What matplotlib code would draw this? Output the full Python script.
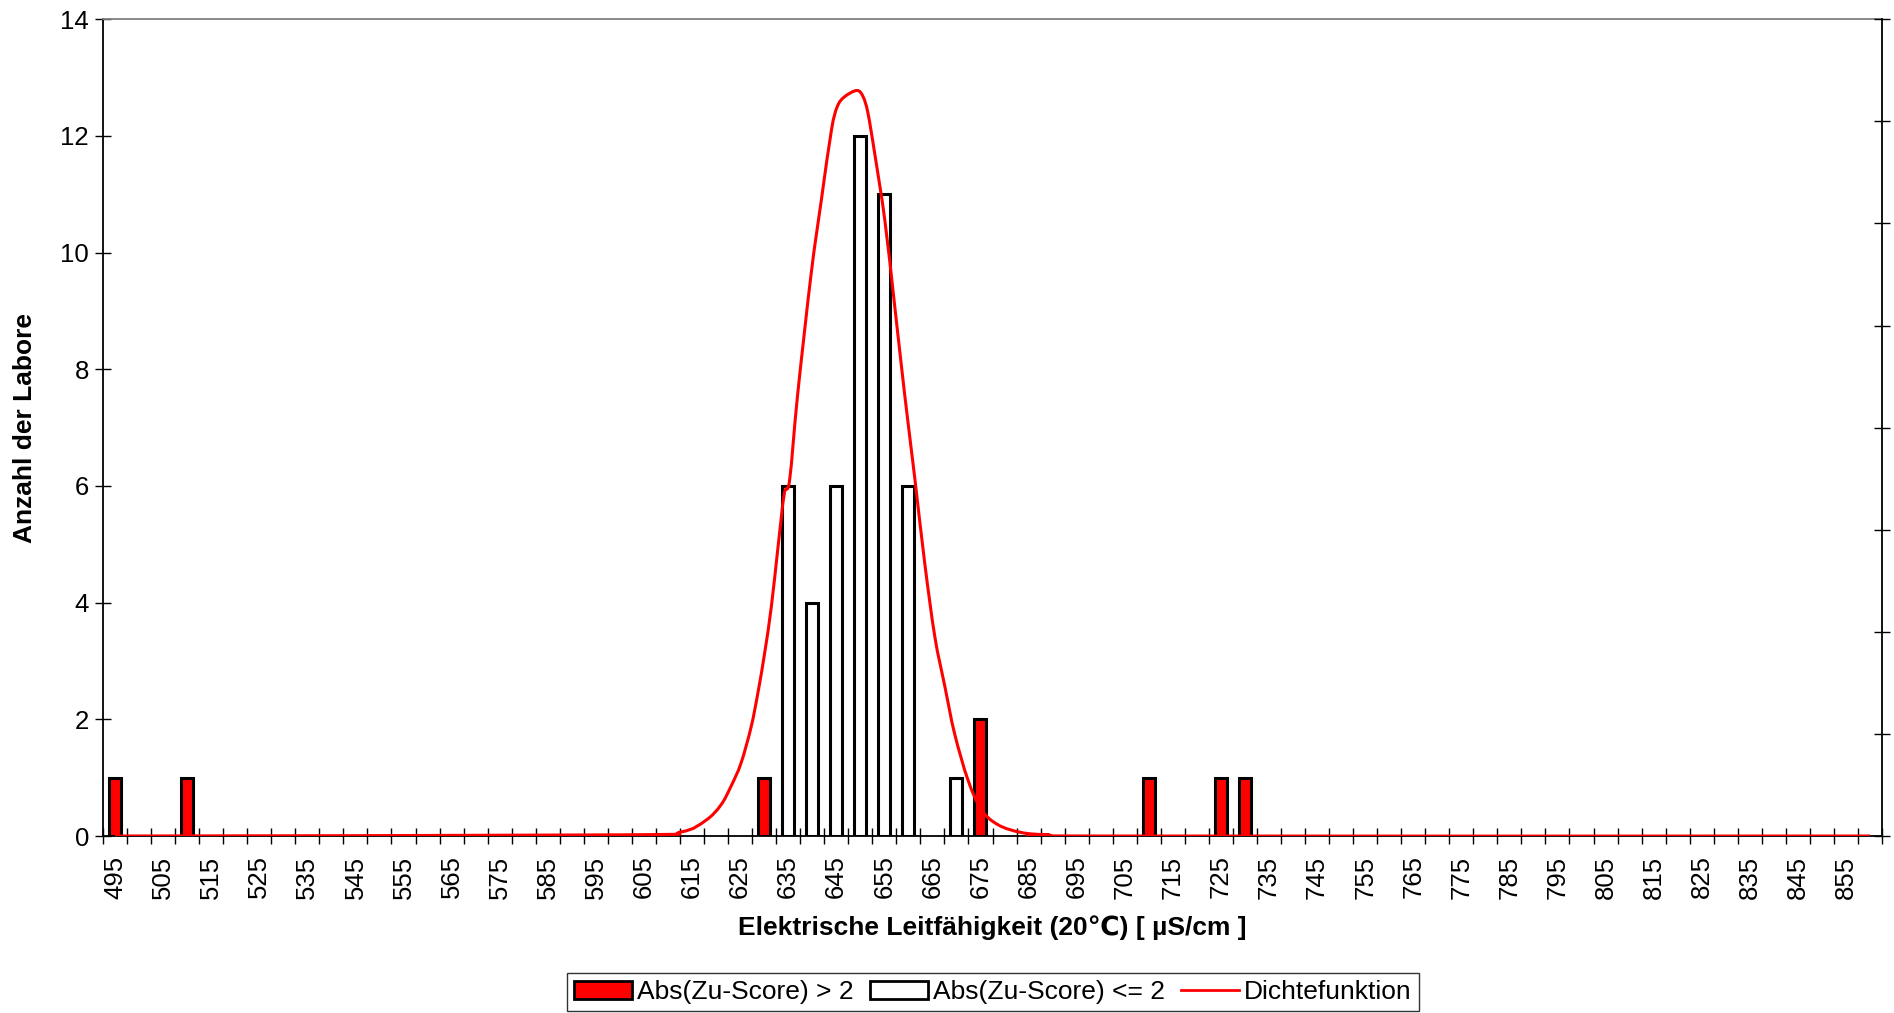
import matplotlib
matplotlib.use("Agg")
import matplotlib.pyplot as plt
from matplotlib.patches import Patch, PathPatch
from matplotlib.lines import Line2D
from matplotlib.path import Path

plt.rcParams['font.family'] = ['Liberation Sans', 'DejaVu Sans']

# categories (bin centres, µS/cm)
categories = list(range(495, 861, 5))
tick_labels = [str(c) for c in categories[::2]]

# Abs(Zu-Score) > 2
red_cats = [495, 510, 630, 675, 710, 725, 730]
red_counts = [1, 1, 1, 2, 1, 1, 1]

# Abs(Zu-Score) <= 2
white_cats = [635, 640, 645, 650, 655, 660, 670]
white_counts = [6, 4, 6, 12, 11, 6, 1]

# Dichtefunktion
dens_x = [495, 600.2, 612.7, 617.9, 621.0, 623.1, 625.2, 627.3, 628.7, 630.1, 631.5,
          632.9, 634.2, 635.3, 637.0, 639.8, 641.9, 644.0, 645.2, 646.7, 649.3,
          650.6, 651.6, 653.0, 655.1, 657.1, 659.2, 661.3, 663.4, 665.5, 667.6,
          669.6, 672.4, 675.2, 678.7, 683.5, 689.1, 700, 860]
dens_y = [0.0, 0.02, 0.07, 0.27, 0.53, 0.85, 1.25, 1.87, 2.45, 3.13, 3.93,
          4.96, 5.87, 6.10, 7.59, 9.65, 10.90, 12.10, 12.50, 12.67, 12.78,
          12.67, 12.39, 11.70, 10.56, 9.13, 7.59, 6.16, 4.68, 3.42, 2.56,
          1.76, 0.96, 0.45, 0.19, 0.06, 0.02, 0.0, 0.0]


def pos(v):
    return (v - categories[0]) / 5.0


def smooth_path(xs, ys):
    """Smoothed line (Catmull-Rom drawn as cubic Bezier segments)."""
    pts = list(zip(xs, ys))
    verts = [pts[0]]
    codes = [Path.MOVETO]
    n = len(pts)
    for i in range(n - 1):
        p0 = pts[i - 1] if i > 0 else pts[i]
        p1 = pts[i]
        p2 = pts[i + 1]
        p3 = pts[i + 2] if i + 2 < n else pts[i + 1]
        c1 = (p1[0] + (p2[0] - p0[0]) / 6.0, p1[1] + (p2[1] - p0[1]) / 6.0)
        c2 = (p2[0] - (p3[0] - p1[0]) / 6.0, p2[1] - (p3[1] - p1[1]) / 6.0)
        verts += [c1, c2, p2]
        codes += [Path.CURVE4] * 3
    return Path(verts, codes)


fig = plt.figure(figsize=(18.94, 10.13), dpi=100)
ax = fig.add_axes([103/1894, 1-836/1013, (1882-103)/1894, (836-19.3)/1013])

n = len(categories)
ax.bar([pos(c) for c in red_cats], red_counts, width=0.5, color='#FF0000',
       edgecolor='black', linewidth=2.2, zorder=2)
ax.bar([pos(c) for c in white_cats], white_counts, width=0.5, color='white',
       edgecolor='black', linewidth=2.2, zorder=2)
curve = PathPatch(smooth_path([pos(v) for v in dens_x], dens_y), fill=False,
                  edgecolor='#FF0000', linewidth=2.2, zorder=3,
                  transform=ax.transData)
ax.add_patch(curve)

ax.set_xlim(-0.5, n - 0.5)
ax.set_ylim(0, 14)
ax.set_yticks(range(0, 15, 2))
ax.tick_params(axis='y', direction='inout', length=12, width=1, labelsize=18.5, pad=4)

ax.set_xticks([i - 0.5 for i in range(n + 1)])
ax.set_xticklabels([])
ax.set_xticks(list(range(0, n, 2)), minor=True)
ax.set_xticklabels(tick_labels, minor=True, rotation=90)
ax.tick_params(axis='x', which='major', direction='inout', length=12, width=1)
ax.tick_params(axis='x', which='minor', length=0, labelsize=18.5, pad=14)

for s in ['left', 'bottom']:
    ax.spines[s].set_color('black')
    ax.spines[s].set_linewidth(1.3)
ax.spines['top'].set_color('#808080')
ax.spines['top'].set_linewidth(1.3)
ax.spines['right'].set_visible(False)

ax2 = ax.twinx()
ax2.set_ylim(0, 8)
ax2.set_yticks(range(0, 9))
ax2.set_yticklabels([])
ax2.tick_params(axis='y', direction='inout', length=12, width=1)
ax2.spines['right'].set_color('black')
ax2.spines['right'].set_linewidth(1.3)
for s in ['left', 'top', 'bottom']:
    ax2.spines[s].set_visible(False)

fig.text(25/1894, 1-(836+19.3)/2/1013, 'Anzahl der Labore', rotation=90,
         ha='center', va='center', fontsize=19, fontweight='bold')
fig.text((103+1882)/2/1894, 1-928/1013, 'Elektrische Leitfähigkeit (20℃) [ µS/cm ]',
         ha='center', va='center', fontsize=19, fontweight='bold')

handles = [Patch(facecolor='#FF0000', edgecolor='black', linewidth=2),
           Patch(facecolor='white', edgecolor='black', linewidth=2),
           Line2D([], [], color='#FF0000', linewidth=2)]
labels = ['Abs(Zu-Score) > 2', 'Abs(Zu-Score) <= 2', 'Dichtefunktion']
leg = fig.legend(handles, labels, loc='center', bbox_to_anchor=(993/1894, 1-992/1013),
                 ncol=3, fontsize=19, frameon=True, fancybox=False, shadow=False,
                 handlelength=2.2, handleheight=0.7, handletextpad=0.2,
                 columnspacing=0.6, borderpad=0.25, borderaxespad=0)
leg.get_frame().set_edgecolor('black')
leg.get_frame().set_linewidth(1)

fig.savefig('out.png', dpi=100)
